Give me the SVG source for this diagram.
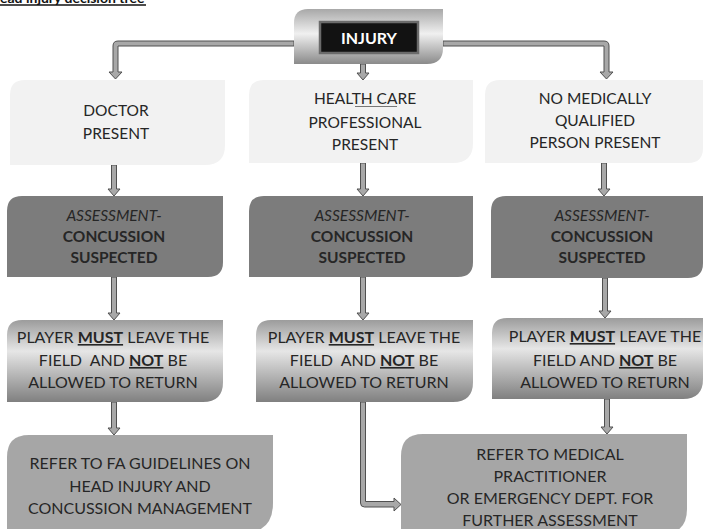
<svg xmlns="http://www.w3.org/2000/svg" width="704" height="529" viewBox="0 0 704 529">
<defs>
<linearGradient id="silver" x1="0" y1="0" x2="0" y2="1">
<stop offset="0" stop-color="#9c9c9c"/>
<stop offset="0.38" stop-color="#e6e6e6"/>
<stop offset="1" stop-color="#808080"/>
</linearGradient>
<linearGradient id="silver2" x1="0" y1="0" x2="0" y2="1">
<stop offset="0" stop-color="#a8a8a8"/>
<stop offset="0.45" stop-color="#f0f0f0"/>
<stop offset="1" stop-color="#8a8a8a"/>
</linearGradient>
</defs>
<style>
text{font-family:Lato,"Liberation Sans",sans-serif;font-size:16px;fill:#262626;text-anchor:middle;white-space:pre}
.s{font-size:15.5px}
.b{font-weight:bold}
.u{text-decoration:underline}
.i{font-style:italic}
.r1{fill:#f2f2f2}
.r2{fill:#7c7c7c}
.r3{fill:url(#silver)}
.r4{fill:#a6a6a6}
.arr{fill:#a8a8a8;stroke:#505050;stroke-width:1}
.title{font-weight:bold;font-size:14px;text-anchor:start;fill:#111}
</style>
<rect width="704" height="529" fill="#ffffff"/>
<g id="title"><text class="title" x="0" y="2.5">ead injury decision tree</text><line x1="0" y1="5" x2="146" y2="5" stroke="#111" stroke-width="1.3"/></g>

<g id="connectors">
<path class="arr" d="M294 41 H118 Q113 41 113 46 V72 H109 L115.5 79 L122 72 H118 V46 H294 Z"/>
<path class="arr" d="M443 41 H604 Q609 41 609 46 V72 H613 L606.5 79 L600 72 H604 V46 H443 Z"/>
<path class="arr" d="M360.5 64 V73 H357 L363 80 L369 73 H365.5 V64 Z"/>
<path class="arr" d="M111.5 165 V189 H108 L114 196 L120 189 H116.5 V165 Z"/>
<path class="arr" d="M360.5 163 V189 H357 L363 196 L369 189 H365.5 V163 Z"/>
<path class="arr" d="M601.5 163 V189 H598 L604 196 L610 189 H606.5 V163 Z"/>
<path class="arr" d="M111.5 277 V313 H108 L114 320 L120 313 H116.5 V277 Z"/>
<path class="arr" d="M360.5 277 V313 H357 L363 320 L369 313 H365.5 V277 Z"/>
<path class="arr" d="M602.5 278 V311 H599 L605 318 L611 311 H607.5 V278 Z"/>
<path class="arr" d="M111.5 402 V428 H108 L114 435 L120 428 H116.5 V402 Z"/>
<path class="arr" d="M604.5 399 V427 H601 L607 434 L613 427 H609.5 V399 Z"/>
<path class="arr" d="M360.5 402 V503 Q360.5 507 364.5 507 H394 V511 L401 504.5 L394 498 V501.5 H365.5 V402 Z"/>
</g>

<g id="injury">
<path d="M308 9 H443 V48 Q443 64 427 64 H294 V23 Q294 9 308 9 Z" fill="url(#silver2)"/>
<rect x="320" y="22" width="98" height="31" fill="#121212" stroke="#6b6b6b" stroke-width="2.5"/>
<text x="369" y="43.5" class="b" style="fill:#ffffff;font-size:16px">INJURY</text>
</g>

<g id="doctor">
<path class="r1" d="M25 80 H225 V145 Q225 165 205 165 H10 V95 Q10 80 25 80 Z"/>
<text class="s" x="116" y="116">DOCTOR</text>
<text class="s" x="116" y="139">PRESENT</text>
</g>
<g id="hcp">
<path class="r1" d="M264 80 H473 V143 Q473 163 453 163 H249 V95 Q249 80 264 80 Z"/>
<text class="s" x="365" y="104">HEALTH CARE</text>
<line x1="355" y1="106.5" x2="397" y2="106.5" stroke="#777" stroke-width="1"/>
<text class="s" x="365" y="128">PROFESSIONAL</text>
<text class="s" x="365" y="150">PRESENT</text>
</g>
<g id="nomed">
<path class="r1" d="M500 80 H703 V148 Q703 163 688 163 H485 V95 Q485 80 500 80 Z"/>
<text class="s" x="595" y="104">NO MEDICALLY</text>
<text class="s" x="595" y="126">QUALIFIED</text>
<text class="s" x="595" y="148">PERSON PRESENT</text>
</g>

<g id="assess1">
<path class="r2" d="M22 196 H223 V262 Q223 277 208 277 H7 V211 Q7 196 22 196 Z"/>
<text x="114" y="221" class="s i">ASSESSMENT-</text>
<text x="114" y="242" class="s b">CONCUSSION</text>
<text x="114" y="263" class="s b">SUSPECTED</text>
</g>
<g id="assess2">
<path class="r2" d="M264 196 H473 V262 Q473 277 458 277 H249 V211 Q249 196 264 196 Z"/>
<text x="362" y="221" class="s i">ASSESSMENT-</text>
<text x="362" y="242" class="s b">CONCUSSION</text>
<text x="362" y="263" class="s b">SUSPECTED</text>
</g>
<g id="assess3">
<path class="r2" d="M506 196 H703 V263 Q703 278 688 278 H491 V211 Q491 196 506 196 Z"/>
<text x="602" y="221" class="s i">ASSESSMENT-</text>
<text x="602" y="242" class="s b">CONCUSSION</text>
<text x="602" y="263" class="s b">SUSPECTED</text>
</g>

<g id="leave1">
<path class="r3" d="M22 320 H223 V382 Q223 402 203 402 H7 V335 Q7 320 22 320 Z"/>
<text x="113" y="343">PLAYER <tspan class="b u">MUST</tspan> LEAVE THE</text>
<text x="113" y="366">FIELD  AND <tspan class="b u">NOT</tspan> BE</text>
<text x="113" y="388">ALLOWED TO RETURN</text>
</g>
<g id="leave2">
<path class="r3" d="M271 320 H473 V382 Q473 402 453 402 H256 V335 Q256 320 271 320 Z"/>
<text x="364" y="343">PLAYER <tspan class="b u">MUST</tspan> LEAVE THE</text>
<text x="364" y="366">FIELD  AND <tspan class="b u">NOT</tspan> BE</text>
<text x="364" y="388">ALLOWED TO RETURN</text>
</g>
<g id="leave3">
<path class="r3" d="M507 318 H703 V379 Q703 399 683 399 H492 V333 Q492 318 507 318 Z"/>
<text x="605" y="342">PLAYER <tspan class="b u">MUST</tspan> LEAVE THE</text>
<text x="605" y="366">FIELD AND <tspan class="b u">NOT</tspan> BE</text>
<text x="605" y="388">ALLOWED TO RETURN</text>
</g>

<g id="fa">
<path class="r4" d="M29 435 H273 V503 Q273 533 243 533 H7 V457 Q7 435 29 435 Z"/>
<text x="140" y="469">REFER TO FA GUIDELINES ON</text>
<text x="140" y="492">HEAD INJURY AND</text>
<text x="140" y="514">CONCUSSION MANAGEMENT</text>
</g>
<g id="medical">
<path class="r4" d="M423 434 H687 V509 Q687 534 662 534 H401 V456 Q401 434 423 434 Z"/>
<text x="550" y="460">REFER TO MEDICAL</text>
<text x="550" y="482">PRACTITIONER</text>
<text x="550" y="504">OR EMERGENCY DEPT. FOR</text>
<text x="550" y="526">FURTHER ASSESSMENT</text>
</g>
</svg>
